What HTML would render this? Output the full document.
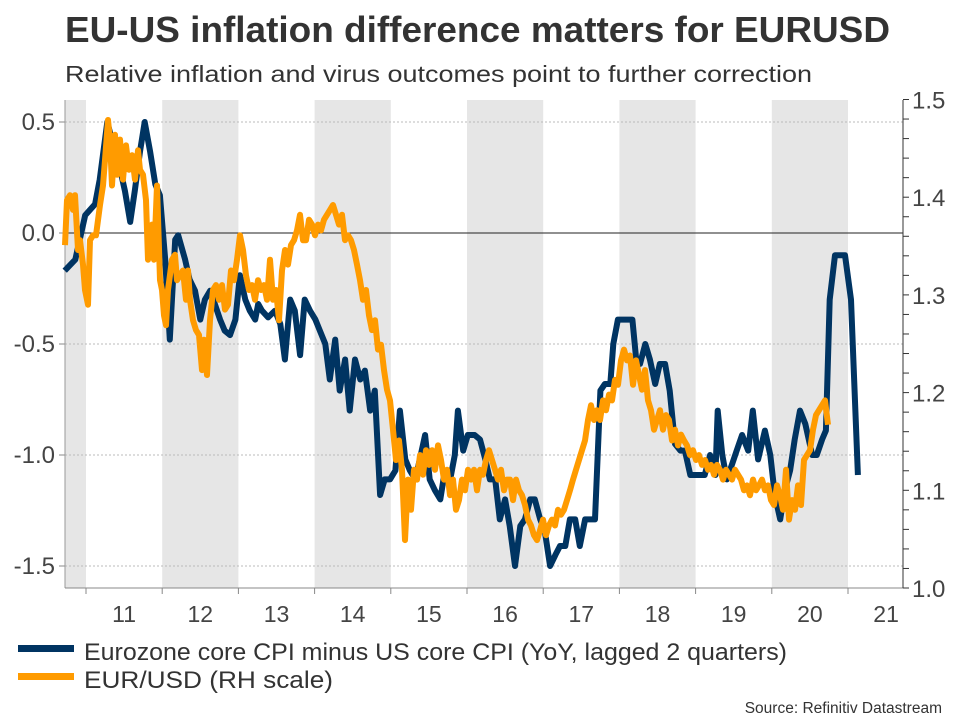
<!DOCTYPE html>
<html><head><meta charset="utf-8"><style>
html,body{margin:0;padding:0;background:#fff;}
svg{display:block;font-family:"Liberation Sans",Arial,sans-serif;}
</style></head><body>
<svg id="chart" width="960" height="720" viewBox="0 0 960 720" xmlns="http://www.w3.org/2000/svg">
<text x="65" y="42" font-size="36" font-weight="bold" fill="#333" textLength="825" lengthAdjust="spacingAndGlyphs">EU-US inflation difference matters for EURUSD</text>
<text x="65" y="82" font-size="23" fill="#333" textLength="747" lengthAdjust="spacingAndGlyphs">Relative inflation and virus outcomes point to further correction</text>
<g id="bands"></g>
<g id="grid"></g>
<g id="axes"></g>
<g id="series"></g>
<g>
<rect x="18" y="645" width="56" height="7" fill="#003462"/>
<text x="84" y="660" font-size="24" fill="#333" textLength="703" lengthAdjust="spacingAndGlyphs">Eurozone core CPI minus US core CPI (YoY, lagged 2 quarters)</text>
<rect x="18" y="673" width="56" height="7" fill="#ff9b00"/>
<text x="84" y="688" font-size="24" fill="#333" textLength="249" lengthAdjust="spacingAndGlyphs">EUR/USD (RH scale)</text>
</g>
<text x="942" y="713" font-size="15.5" fill="#333" text-anchor="end">Source: Refinitiv Datastream</text>
</svg>
<script>
const leftTicks=[0.5,0.0,-0.5,-1.0,-1.5];
const leftTickLabels=["0.5","0.0","-0.5","-1.0","-1.5"];
const rightTicks=[1.0,1.1,1.2,1.3,1.4,1.5];
const rightTickLabels=["1.0","1.1","1.2","1.3","1.4","1.5"];
const yearLabels=["11","12","13","14","15","16","17","18","19","20","21"];
const blueDates=[2010.72,2010.86,2010.99,2011.12,2011.18,2011.28,2011.34,2011.42,2011.51,2011.58,2011.64,2011.71,2011.77,2011.84,2011.91,2011.97,2012.04,2012.10,2012.17,2012.21,2012.30,2012.36,2012.43,2012.50,2012.56,2012.63,2012.69,2012.76,2012.82,2012.89,2012.96,2013.02,2013.09,2013.15,2013.22,2013.26,2013.31,2013.39,2013.48,2013.55,2013.61,2013.68,2013.74,2013.81,2013.87,2013.94,2014.01,2014.07,2014.14,2014.20,2014.27,2014.33,2014.40,2014.46,2014.53,2014.60,2014.66,2014.73,2014.79,2014.86,2014.92,2014.99,2015.06,2015.12,2015.19,2015.25,2015.32,2015.38,2015.45,2015.51,2015.58,2015.65,2015.71,2015.78,2015.84,2015.88,2015.95,2016.01,2016.10,2016.17,2016.24,2016.30,2016.37,2016.43,2016.50,2016.56,2016.63,2016.70,2016.76,2016.83,2016.89,2016.96,2017.02,2017.09,2017.16,2017.22,2017.29,2017.35,2017.42,2017.48,2017.55,2017.61,2017.68,2017.75,2017.81,2017.88,2017.92,2017.98,2018.07,2018.17,2018.22,2018.27,2018.34,2018.40,2018.47,2018.53,2018.60,2018.66,2018.73,2018.80,2018.86,2018.93,2018.99,2019.06,2019.12,2019.19,2019.26,2019.29,2019.35,2019.41,2019.48,2019.54,2019.61,2019.69,2019.75,2019.82,2019.91,2019.98,2020.04,2020.11,2020.17,2020.24,2020.30,2020.37,2020.44,2020.53,2020.59,2020.66,2020.71,2020.76,2020.83,2020.89,2020.96,2021.04,2021.13];
const blueValues=[-0.17,-0.12,0.08,0.13,0.24,0.50,0.42,0.33,0.19,0.05,0.19,0.37,0.50,0.37,0.22,0.17,-0.12,-0.48,-0.03,-0.01,-0.12,-0.21,-0.26,-0.39,-0.30,-0.26,-0.32,-0.39,-0.44,-0.46,-0.39,-0.19,-0.30,-0.35,-0.39,-0.32,-0.35,-0.38,-0.35,-0.41,-0.57,-0.30,-0.35,-0.55,-0.30,-0.35,-0.39,-0.44,-0.50,-0.66,-0.48,-0.71,-0.57,-0.80,-0.57,-0.66,-0.62,-0.80,-0.71,-1.18,-1.11,-1.11,-1.07,-0.80,-1.02,-1.07,-1.11,-1.02,-0.91,-1.11,-1.16,-1.20,-1.07,-1.11,-1.00,-0.80,-0.98,-0.91,-0.91,-0.93,-1.02,-1.11,-1.11,-1.29,-1.20,-1.32,-1.50,-1.32,-1.29,-1.20,-1.20,-1.29,-1.34,-1.50,-1.45,-1.41,-1.41,-1.29,-1.29,-1.41,-1.29,-1.29,-1.29,-0.71,-0.68,-0.68,-0.50,-0.39,-0.39,-0.39,-0.57,-0.59,-0.50,-0.57,-0.68,-0.59,-0.59,-0.71,-0.95,-0.98,-0.98,-1.09,-1.09,-1.09,-1.09,-1.00,-1.09,-0.80,-1.00,-1.11,-1.04,-0.98,-0.91,-0.98,-0.80,-1.02,-0.89,-1.00,-1.18,-1.29,-1.16,-1.07,-0.93,-0.80,-0.86,-1.00,-1.00,-0.93,-0.89,-0.30,-0.10,-0.10,-0.10,-0.30,-1.09];
// EUR/USD: first observations have explicit dates, the rest are on a regular ~2-week grid
const orangeDatesEarly=[2010.724,2010.751,2010.790,2010.829,2010.856,2010.895,2010.921,2010.961,2010.987,2011.026,2011.052,2011.092,2011.131,2011.184,2011.223,2011.249,2011.289,2011.315,2011.341,2011.381,2011.407,2011.446,2011.486,2011.525,2011.564,2011.604,2011.643,2011.682,2011.709,2011.748,2011.787,2011.814,2011.840,2011.866,2011.892,2011.932,2011.971,2011.997,2012.024,2012.050,2012.076,2012.129,2012.168,2012.194,2012.234,2012.273,2012.312,2012.339,2012.365,2012.404,2012.444,2012.483,2012.522,2012.549,2012.588];
const orangeRegularStart=2012.627, orangeRegularStep=0.03937;
const orangeValues=[1.351,1.397,1.402,1.387,1.402,1.346,1.356,1.331,1.305,1.290,1.356,1.361,1.361,1.392,1.412,1.438,1.479,1.459,1.412,1.464,1.423,1.459,1.418,1.453,1.428,1.443,1.418,1.448,1.428,1.423,1.397,1.336,1.346,1.372,1.336,1.412,1.315,1.305,1.279,1.269,1.305,1.336,1.341,1.315,1.320,1.325,1.295,1.325,1.295,1.274,1.264,1.259,1.223,1.254,1.218,1.274,1.305,1.310,1.295,1.310,1.285,1.290,1.325,1.315,1.336,1.361,1.346,1.320,1.305,1.310,1.295,1.315,1.305,1.310,1.295,1.336,1.295,1.305,1.274,1.325,1.346,1.331,1.351,1.356,1.366,1.382,1.356,1.356,1.377,1.372,1.361,1.372,1.366,1.377,1.382,1.387,1.392,1.382,1.372,1.382,1.356,1.361,1.356,1.346,1.331,1.315,1.295,1.305,1.279,1.264,1.274,1.244,1.249,1.223,1.203,1.192,1.162,1.131,1.151,1.121,1.049,1.111,1.080,1.121,1.111,1.136,1.116,1.141,1.126,1.141,1.121,1.146,1.131,1.111,1.121,1.095,1.111,1.080,1.090,1.111,1.100,1.121,1.111,1.121,1.100,1.121,1.116,1.131,1.141,1.131,1.121,1.111,1.121,1.100,1.111,1.111,1.090,1.111,1.100,1.095,1.085,1.070,1.064,1.054,1.049,1.059,1.070,1.054,1.064,1.070,1.064,1.080,1.075,1.080,1.090,1.100,1.111,1.121,1.131,1.141,1.151,1.172,1.187,1.172,1.182,1.172,1.192,1.182,1.198,1.192,1.213,1.208,1.233,1.244,1.233,1.238,1.208,1.233,1.218,1.203,1.223,1.192,1.182,1.162,1.172,1.182,1.162,1.177,1.172,1.151,1.162,1.146,1.157,1.151,1.146,1.136,1.141,1.131,1.136,1.126,1.131,1.121,1.126,1.116,1.126,1.121,1.111,1.121,1.116,1.111,1.121,1.116,1.111,1.100,1.105,1.095,1.111,1.100,1.105,1.111,1.100,1.105,1.090,1.085,1.105,1.095,1.080,1.121,1.070,1.090,1.080,1.105,1.085,1.131,1.136,1.141,1.162,1.177,1.182,1.187,1.192,1.167];

const NS="http://www.w3.org/2000/svg";
const X0=65,X1=903,YT=100,YB=588;
const xScale=y=>86+(y-2011)*76.2;
const yL=v=>233-v*222;
const yR=v=>588-(v-1)*977;
function mk(tag,attrs,parent){const e=document.createElementNS(NS,tag);for(const k in attrs)e.setAttribute(k,attrs[k]);parent.appendChild(e);return e;}
const bands=document.getElementById('bands'),grid=document.getElementById('grid'),axes=document.getElementById('axes'),series=document.getElementById('series');
for(let yr=2010;yr<=2020;yr+=2){
  const a=Math.max(X0,xScale(yr)),b=xScale(yr+1);
  const r=mk('rect',{x:a,y:YT,width:b-a,height:YB-YT,fill:'#e6e6e6'},bands);
  
  
}
leftTicks.forEach((v,i)=>{
  if(v!==0){const l=mk('line',{x1:X0,x2:X1,y1:yL(v),y2:yL(v),stroke:'#bbb','stroke-width':1,'stroke-dasharray':'2,2'},grid);
  
  }
  const t=mk('line',{x1:X0-6,x2:X0,y1:yL(v),y2:yL(v),stroke:'#888'},axes);
  
  
  const tx=mk('text',{x:55,y:yL(v)+8,'font-size':24,fill:'#444','text-anchor':'end'},axes);
  tx.textContent=leftTickLabels[i];
  
  
});
const zl=mk('line',{x1:X0,x2:X1,y1:yL(0),y2:yL(0),stroke:'#222','stroke-width':1},grid);


const la=mk('line',{x1:X0,x2:X0,y1:YT,y2:YB,stroke:'#999'},axes);


const ba=mk('line',{x1:X0,x2:X1,y1:YB,y2:YB,stroke:'#888'},axes);


const ra=mk('line',{x1:X1,x2:X1,y1:YT,y2:YB,stroke:'#333'},axes);


for(let k=0;k<=25;k++){const v=1+k*0.02;
  const t=mk('line',{x1:X1,x2:X1+6,y1:yR(v),y2:yR(v),stroke:'#333'},axes);
  
  }
rightTicks.forEach((v,i)=>{
  const tx=mk('text',{x:912,y:yR(v)+9,'font-size':24,fill:'#444'},axes);
  tx.textContent=rightTickLabels[i];
  
  
});
yearLabels.forEach((lab,i)=>{
  const yr=2011+i;
  const t=mk('line',{x1:xScale(yr),x2:xScale(yr),y1:YB,y2:YB+6,stroke:'#888'},axes);
  
  
  const tx=mk('text',{x:xScale(yr+0.5),y:622,'font-size':23,fill:'#444','text-anchor':'middle'},axes);
  tx.textContent=lab;
  
  
});
const nE=orangeDatesEarly.length;
const orangeDate=i=>i<nE?orangeDatesEarly[i]:orangeRegularStart+(i-nE)*orangeRegularStep;
const op=orangeValues.map((v,i)=>xScale(orangeDate(i)).toFixed(1)+','+yR(v).toFixed(1)).join(' ');
const bp=blueValues.map((v,i)=>xScale(blueDates[i]).toFixed(1)+','+yL(v).toFixed(1)).join(' ');
const bl=mk('polyline',{points:bp,fill:'none',stroke:'#003462','stroke-width':6,'stroke-linejoin':'round'},series);


const ol=mk('polyline',{points:op,fill:'none',stroke:'#ff9b00','stroke-width':6,'stroke-linejoin':'round'},series);


</script>
</body></html>
